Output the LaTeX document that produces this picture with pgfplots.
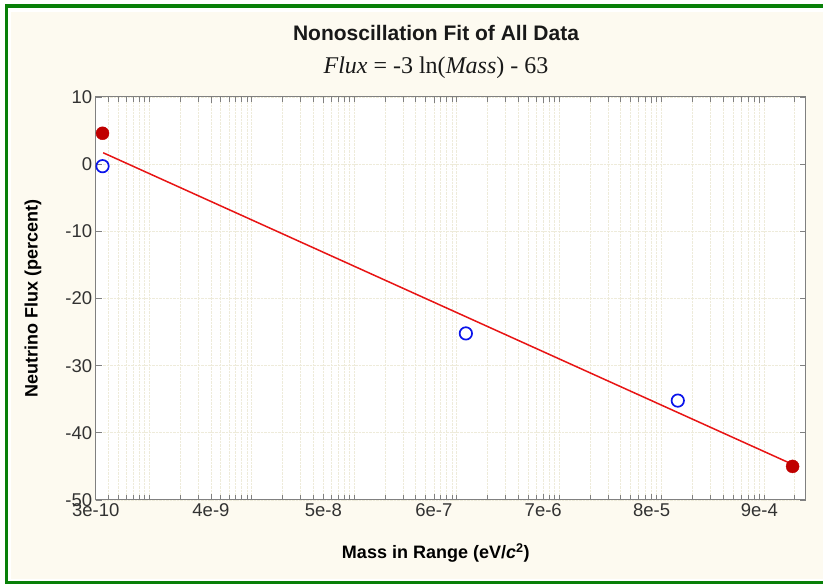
\documentclass[border=0pt]{standalone}
\usepackage{fontspec}
\setmainfont{Liberation Sans}
\newfontfamily\seriffont{Liberation Serif}
\usepackage{pgfplots}
\pgfplotsset{compat=1.18}
\definecolor{framegreen}{RGB}{8,128,8}
\definecolor{cream}{RGB}{253,250,240}
\definecolor{redpt}{RGB}{192,0,0}
\definecolor{redline}{RGB}{232,20,20}
\definecolor{bluept}{RGB}{10,20,235}
\definecolor{gridc}{RGB}{238,235,218}
\definecolor{axisgray}{RGB}{128,128,128}
\definecolor{labelgray}{RGB}{50,50,50}
\begin{document}
\begin{tikzpicture}[x=1pt,y=1pt]
\useasboundingbox (0,0) rectangle (823,584);
\fill[white] (0,0) rectangle (823,584);
\fill[framegreen] (5,576) rectangle (823,580);
\fill[framegreen] (5,0) rectangle (8,580);
\fill[framegreen] (5,0) rectangle (823,3);
\fill[cream] (11,5) rectangle (823,572);
\fill[cream] (812,5) rectangle (823.5,572);
\node[font=\bfseries\fontsize{21}{21}\selectfont, text=black!90] at (436,551) {Nonoscillation Fit of All Data};
\node[font=\seriffont\fontsize{24}{24}\selectfont, text=black!90] at (436,516) {\textit{Flux} = -3 ln(\textit{Mass}) - 63};
\begin{axis}[
  at={(95.7pt,84pt)}, anchor=south west,
  scale only axis, width=710pt, height=403pt,
  xmode=log, xmin=3e-10, xmax=2.55e-3,
  ymin=-50, ymax=10,
  xtick={3e-10,4e-9,5e-8,6e-7,7e-6,8e-5,9e-4},
  xticklabels={3e-10,4e-9,5e-8,6e-7,7e-6,8e-5,9e-4},
  minor xtick={4e-10,5e-10,6e-10,7e-10,8e-10,9e-10,
    1e-9,2e-9,3e-9,5e-9,6e-9,7e-9,8e-9,9e-9,
    1e-8,2e-8,3e-8,4e-8,6e-8,7e-8,8e-8,9e-8,
    1e-7,2e-7,3e-7,4e-7,5e-7,7e-7,8e-7,9e-7,
    1e-6,2e-6,3e-6,4e-6,5e-6,6e-6,8e-6,9e-6,
    1e-5,2e-5,3e-5,4e-5,5e-5,6e-5,7e-5,9e-5,
    1e-4,2e-4,3e-4,4e-4,5e-4,6e-4,7e-4,8e-4,
    1e-3,2e-3},
  ytick={-50,-40,-30,-20,-10,0,10},
  tick align=inside,
  major tick length=6pt, minor tick length=5pt,
  axis line style={axisgray, line width=1pt},
  tick style={axisgray, line width=0.8pt},
  xmajorgrids, xminorgrids, ymajorgrids,
  major grid style={gridc, densely dotted, line width=0.8pt},
  minor grid style={gridc, densely dotted, line width=0.8pt},
  axis background/.style={fill=white},
  tick label style={font=\fontsize{18.5}{18.5}\selectfont, text=labelgray},
  /pgf/number format/assume math mode=true,
  xlabel={Mass in Range (eV/\textit{c}\textsuperscript{2})},
  ylabel={Neutrino Flux (percent)},
  every axis x label/.style={at={(axis description cs:0.479,-0.1315)}, anchor=center, font=\bfseries\fontsize{18}{18}\selectfont},
  every axis y label/.style={at={(axis description cs:-0.0883,0.5)}, anchor=center, rotate=90, font=\bfseries\fontsize{18}{18}\selectfont},
  clip=false,
]
\addplot[redline, line width=1.5pt, no marks] coordinates {(3.55e-10,1.7) (1.9e-3,-44.7)};
\addplot[only marks, mark=*, mark size=6.5pt, mark options={fill=redpt, draw=redpt}] coordinates {(3.5e-10,4.6) (1.9e-3,-45.0)};
\addplot[only marks, mark=o, mark size=6.2pt, mark options={draw=bluept, line width=1.7pt}] coordinates {(3.5e-10,-0.3) (1.23e-6,-25.2) (1.44e-4,-35.2)};
\end{axis}
\end{tikzpicture}
\end{document}
